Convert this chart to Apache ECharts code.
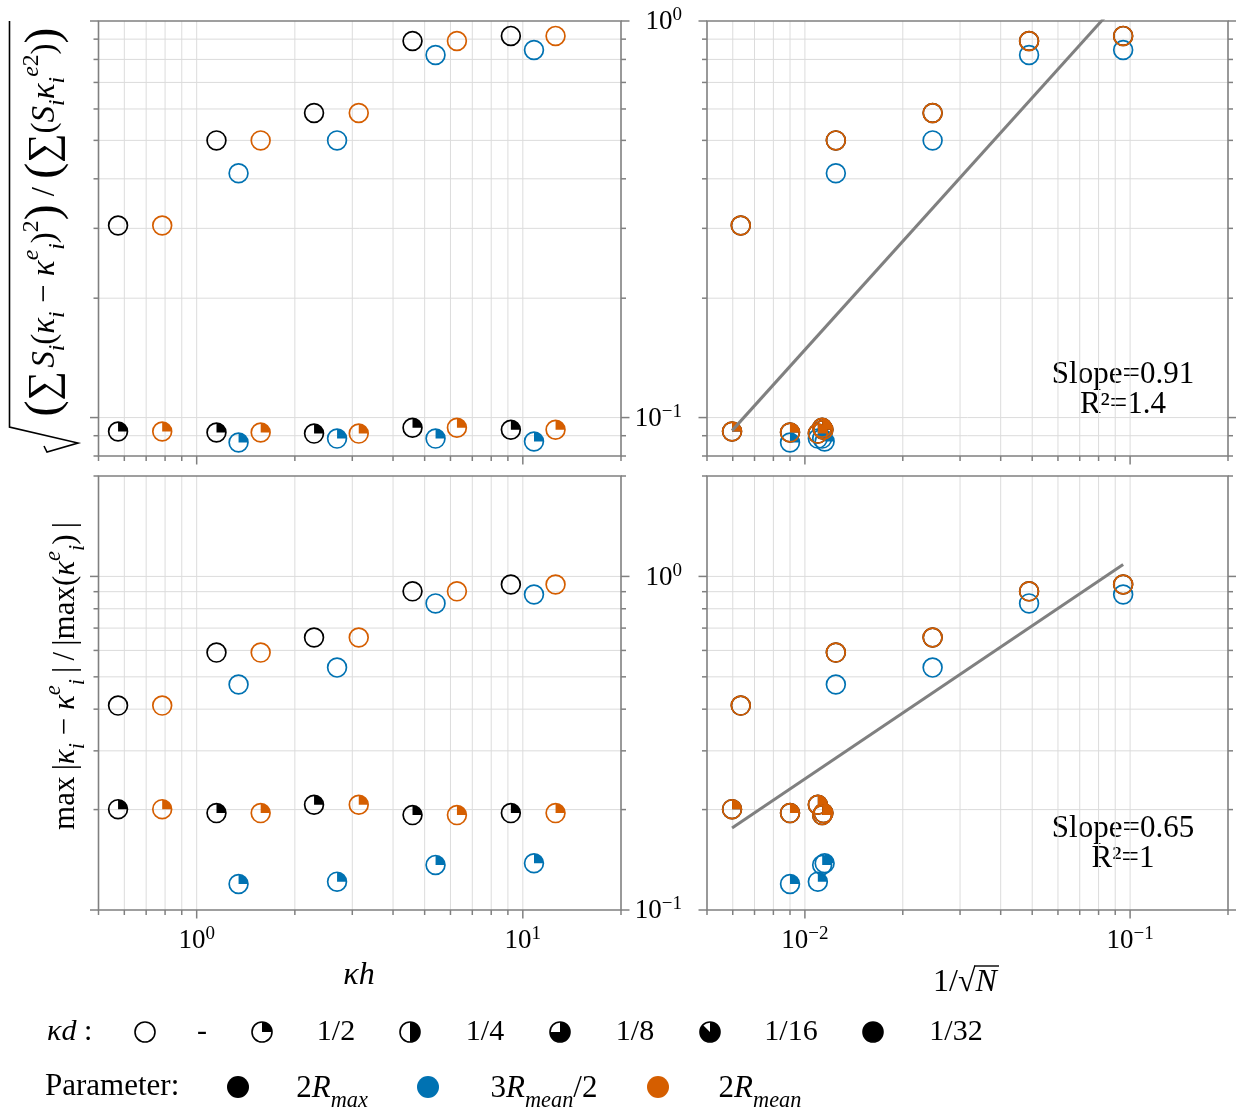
<!DOCTYPE html>
<html>
<head>
<meta charset="utf-8">
<script src="https://cdn.jsdelivr.net/npm/echarts@6/dist/echarts.min.js"></script>
<style>
html,body{margin:0;padding:0;background:#fff}
#c{width:1236px;height:1110px}
</style>
</head>
<body>
<div id="c"></div>
<script>
// ---------------- DATA ----------------
// kd levels (legend) and the fraction of each marker that is filled
const kdLevels = ['-', '1/2', '1/4', '1/8', '1/16', '1/32'];
const kdWedge  = [0, 0.25, 0.5, 0.75, 0.875, 1];

// parameter names
const paramNames  = ['2Rmax', '3Rmean/2', '2Rmean'];
const paramColors = ['#000000', '#0072b2', '#d55e00'];

// kappa*h (x of left panels)
const kh_2Rmax   = [0.574, 1.150, 2.29, 4.59, 9.19];
const kh_3Rmean2 = [1.344, 2.694, 5.40, 10.82];
const kh_2Rmean  = [0.784, 1.571, 3.14, 6.28, 12.6];

// 1/sqrt(N) (x of right panels); "none" = kd '-', "half" = kd 1/2
const isn_2Rmax_none   = [0.00635, 0.01245, 0.0247, 0.0489, 0.0952];
const isn_2Rmax_half   = [0.00597, 0.0090, 0.01096, 0.0113, 0.0114];
const isn_3Rmean2_none = [0.01245, 0.0247, 0.0489, 0.0952];
const isn_3Rmean2_half = [0.0090, 0.01096, 0.0113, 0.0115];
const isn_2Rmean_none  = [0.00635, 0.01245, 0.0247, 0.0489, 0.0952];
const isn_2Rmean_half  = [0.00597, 0.0090, 0.01096, 0.0113, 0.0114];

// relative weighted L2 error (top row)
const l2_2Rmax_none   = [0.305, 0.500, 0.586, 0.890, 0.917];
const l2_2Rmax_half   = [0.0922, 0.0917, 0.0911, 0.0943, 0.0932];
const l2_3Rmean2_none = [0.413, 0.500, 0.821, 0.845];
const l2_3Rmean2_half = [0.0865, 0.0885, 0.0885, 0.0870];
const l2_2Rmean_none  = [0.305, 0.500, 0.586, 0.890, 0.917];
const l2_2Rmean_half  = [0.0922, 0.0917, 0.0911, 0.0943, 0.0932];

// relative max error (bottom row)
const mx_2Rmax_none   = [0.410, 0.591, 0.656, 0.902, 0.946];
const mx_2Rmax_half   = [0.2006, 0.1952, 0.2067, 0.1925, 0.1952];
const mx_3Rmean2_none = [0.474, 0.533, 0.830, 0.883];
const mx_3Rmean2_half = [0.1197, 0.1216, 0.1365, 0.1381];
const mx_2Rmean_none  = [0.410, 0.591, 0.656, 0.902, 0.946];
const mx_2Rmean_half  = [0.2006, 0.1952, 0.2067, 0.1925, 0.1952];

// fit lines (right panels)
const fitTopX = [0.00597, 0.0952];
const fitTopY = [0.0927, 1.15];
const fitBotX = [0.00597, 0.0952];
const fitBotY = [0.176, 1.085];
const fitTopText = ['Slope=0.91', 'R²=1.4'];
const fitBotText = ['Slope=0.65', 'R²=1'];

// axis ranges
const xRangeKh = [0.5, 20];
const xRangeN  = [0.005, 0.2];
const yRangeL2 = [0.08, 1];
const yRangeMx = [0.1, 2];

// ---------------- HELPERS ----------------
const SERIF = "'Liberation Serif','DejaVu Serif',serif";
const GRIDC = '#dcdcdc';
const AXC = '#808080';
const MR = 9.4;   // marker radius

function logTicks(r) {
  const out = [];
  const k0 = Math.floor(Math.log10(r[0])) - 1, k1 = Math.ceil(Math.log10(r[1])) + 1;
  for (let k = k0; k <= k1; k++) {
    for (let m = 1; m <= 9; m++) {
      const v = m * Math.pow(10, k);
      if (v >= r[0] * (1 - 1e-9) && v <= r[1] * (1 + 1e-9)) out.push({ v: v, major: m === 1, k: k });
    }
  }
  return out;
}
function ln(x1, y1, x2, y2, c, w) {
  return { type: 'line', shape: { x1: x1, y1: y1, x2: x2, y2: y2 }, style: { stroke: c, lineWidth: w } };
}
function expLabel(k) { return '10{sup|' + (k < 0 ? '\u2212' + (-k) : '' + k) + '}'; }
const tickRich = { sup: { fontSize: 19, lineHeight: 15, verticalAlign: 'top', fontFamily: SERIF } };

function decoSeries(g, cfg) {
  return {
    type: 'custom', xAxisIndex: g, yAxisIndex: g, z: 1, silent: true, clip: false,
    data: [[cfg.xr[0], cfg.yr[0]]], encode: { x: 0, y: 1 },
    renderItem: function (params, api) {
      const tl = api.coord([cfg.xr[0], cfg.yr[1]]), br = api.coord([cfg.xr[1], cfg.yr[0]]);
      const L = tl[0], T = tl[1], R = br[0], B = br[1];
      const grid = [], ticks = [], labels = [];
      const near = (a, b) => Math.abs(a - b) < 0.8;
      logTicks(cfg.xr).forEach(t => {
        const px = api.coord([t.v, cfg.yr[0]])[0];
        if (!near(px, L) && !near(px, R)) grid.push(ln(px, T, px, B, GRIDC, 1));
        const len = t.major ? 8.5 : 5;
        ticks.push(ln(px, B, px, B + len, AXC, 1.5));
        if (t.major && cfg.xLabels) labels.push({
          type: 'text', x: px, y: B + 15,
          style: { text: expLabel(t.k), fontFamily: SERIF, fontSize: 27, lineHeight: 32, fill: '#000',
                   align: 'center', verticalAlign: 'top', rich: tickRich }
        });
      });
      logTicks(cfg.yr).forEach(t => {
        const py = api.coord([cfg.xr[0], t.v])[1];
        if (!near(py, T) && !near(py, B)) grid.push(ln(L, py, R, py, GRIDC, 1));
        const len = t.major ? 8.5 : 5;
        ticks.push(ln(L - len, py, L, py, AXC, 1.5));
        ticks.push(ln(R, py, R + len, py, AXC, 1.5));
        if (t.major && cfg.yLabels) labels.push({
          type: 'text', x: L - 25, y: py + 1,
          style: { text: expLabel(t.k), fontFamily: SERIF, fontSize: 27, lineHeight: 32, fill: '#000',
                   align: 'right', verticalAlign: 'middle', rich: tickRich }
        });
      });
      const frame = { type: 'rect', shape: { x: L, y: T, width: R - L, height: B - T },
                      style: { fill: null, stroke: AXC, lineWidth: 1.6 } };
      return { type: 'group', children: grid.concat(ticks, [frame], labels) };
    }
  };
}

function markerSeries(g, color, pts, z) {
  return {
    type: 'custom', xAxisIndex: g, yAxisIndex: g, z: z, silent: true, clip: false,
    data: pts, encode: { x: 0, y: 1 },
    renderItem: function (params, api) {
      const p = api.coord([api.value(0), api.value(1)]);
      const f = api.value(2);
      const ch = [];
      if (f >= 1) ch.push({ type: 'circle', shape: { cx: p[0], cy: p[1], r: MR }, style: { fill: color } });
      else if (f > 0) ch.push({ type: 'sector', shape: { cx: p[0], cy: p[1], r: MR, r0: 0,
          startAngle: -Math.PI / 2, endAngle: -Math.PI / 2 + 2 * Math.PI * f, clockwise: true },
          style: { fill: color } });
      ch.push({ type: 'circle', shape: { cx: p[0], cy: p[1], r: MR }, style: { fill: null, stroke: color, lineWidth: 1.7 } });
      return { type: 'group', children: ch };
    }
  };
}
function pts(xs, ys, kdIdx) { return xs.map((x, i) => [x, ys[i], kdWedge[kdIdx]]); }

// ---------------- OPTION ----------------
const grids = [
  { left: 98.5, top: 21, width: 522.5, height: 435 },
  { left: 707, top: 21, width: 521, height: 435 },
  { left: 98.5, top: 476, width: 522.5, height: 434 },
  { left: 707, top: 476, width: 521, height: 434 }
];
const xr = [xRangeKh, xRangeN, xRangeKh, xRangeN];
const yr = [yRangeL2, yRangeL2, yRangeMx, yRangeMx];

const series = [];
for (let g = 0; g < 4; g++) {
  series.push(decoSeries(g, { xr: xr[g], yr: yr[g], xLabels: g >= 2, yLabels: g % 2 === 1 }));
}
const khX = [kh_2Rmax, kh_3Rmean2, kh_2Rmean];
const isnNone = [isn_2Rmax_none, isn_3Rmean2_none, isn_2Rmean_none];
const isnHalf = [isn_2Rmax_half, isn_3Rmean2_half, isn_2Rmean_half];
const l2None = [l2_2Rmax_none, l2_3Rmean2_none, l2_2Rmean_none];
const l2Half = [l2_2Rmax_half, l2_3Rmean2_half, l2_2Rmean_half];
const mxNone = [mx_2Rmax_none, mx_3Rmean2_none, mx_2Rmean_none];
const mxHalf = [mx_2Rmax_half, mx_3Rmean2_half, mx_2Rmean_half];
for (let p = 0; p < 3; p++) {
  const c = paramColors[p];
  series.push(markerSeries(0, c, pts(khX[p], l2None[p], 0).concat(pts(khX[p], l2Half[p], 1)), 3));
  series.push(markerSeries(1, c, pts(isnNone[p], l2None[p], 0).concat(pts(isnHalf[p], l2Half[p], 1)), 3));
  series.push(markerSeries(2, c, pts(khX[p], mxNone[p], 0).concat(pts(khX[p], mxHalf[p], 1)), 3));
  series.push(markerSeries(3, c, pts(isnNone[p], mxNone[p], 0).concat(pts(isnHalf[p], mxHalf[p], 1)), 3));
}
series.push({ type: 'line', xAxisIndex: 1, yAxisIndex: 1, z: 5, silent: true, clip: true, symbol: 'none',
  data: fitTopX.map((x, i) => [x, fitTopY[i]]), lineStyle: { color: AXC, width: 3 } });
series.push({ type: 'line', xAxisIndex: 3, yAxisIndex: 3, z: 5, silent: true, clip: true, symbol: 'none',
  data: fitBotX.map((x, i) => [x, fitBotY[i]]), lineStyle: { color: AXC, width: 3 } });

// ---------------- GRAPHIC (titles, legend, annotations) ----------------
function mathRich(size) {
  return {
    m: { fontSize: size, fontFamily: SERIF, lineHeight: size * 1.5 },
    i: { fontSize: size, fontFamily: SERIF, fontStyle: 'italic', lineHeight: size * 1.5 },
    s: { fontSize: size * 0.72, fontFamily: SERIF, fontStyle: 'italic', lineHeight: size * 1.0, verticalAlign: 'bottom' },
    e: { fontSize: size * 0.72, fontFamily: SERIF, fontStyle: 'italic', lineHeight: size * 0.8, verticalAlign: 'top' },
    n: { fontSize: size * 0.72, fontFamily: SERIF, lineHeight: size * 0.8, verticalAlign: 'top' },
    b: { fontSize: size * 1.45, fontFamily: SERIF, lineHeight: size * 1.5 },
    op: { fontSize: size * 1.25, fontFamily: SERIF, lineHeight: size * 1.5 }
  };
}
const TH = '\u2009';
const elements = [];
// top-left y label
elements.push({ type: 'text', x: 45, y: 222, rotation: Math.PI / 2,
  style: { text: '{b|(}{op|\u2211} {i|S}{s|i}{m|(}{i|\u03ba}{s|i}{m| \u2212 }{i|\u03ba}{e|e}{s|i}{m|)}{n|2}{b|)}{m| / }{b|(}{op|\u2211}{m|(}{i|S}{s|i}{i|\u03ba}{s|i}{e|e}{n|2}{m|)}{b|)}',
    rich: mathRich(33), align: 'center', verticalAlign: 'middle', fill: '#000' } });
elements.push({ type: 'polyline', shape: { points: [[9.5, 21], [9.5, 427], [78, 443], [47, 452], [44, 446]] },
  style: { stroke: '#000', lineWidth: 1.6, fill: null } });
// bottom-left y label
elements.push({ type: 'text', x: 66, y: 676, rotation: Math.PI / 2,
  style: { text: '{m|max' + TH + '|}{i|\u03ba}{s|i}{m| \u2212 }{i|\u03ba}{e|e}{s|i}{m|' + TH + '|' + TH + '/' + TH + '|max(}{i|\u03ba}{e|e}{s|i}{m|)' + TH + '|}',
    rich: mathRich(31), align: 'center', verticalAlign: 'middle', fill: '#000' } });
// x labels
elements.push({ type: 'text', x: 359, y: 976,
  style: { text: '{i|\u03bah}', rich: mathRich(32), align: 'center', verticalAlign: 'middle', fill: '#000' } });
elements.push({ type: 'text', x: 933, y: 983,
  style: { text: '{m|1/\u221a}{i|N}', rich: mathRich(32), align: 'left', verticalAlign: 'middle', fill: '#000' } });
elements.push({ type: 'line', shape: { x1: 974, y1: 966, x2: 999, y2: 966 }, style: { stroke: '#000', lineWidth: 1.4 } });
// annotations
[[fitTopText, 375], [fitBotText, 829]].forEach(a => {
  a[0].forEach((t, i) => elements.push({ type: 'text', x: 1123, y: a[1] + i * 30,
    style: { text: t, fontFamily: SERIF, fontSize: 31, fill: '#000', align: 'center', verticalAlign: 'middle' } }));
});
// legend row 1
elements.push({ type: 'text', x: 47, y: 1032,
  style: { text: '{i|\u03bad}{m| :}', rich: mathRich(30), align: 'left', verticalAlign: 'middle', fill: '#000' } });
const kdMarkX = [145, 262, 410, 560, 710, 873];
const kdTextX = [202, 336, 485, 635, 791, 956];
kdLevels.forEach((lab, i) => {
  const f = kdWedge[i], cx = kdMarkX[i], cy = 1032, r = 10;
  if (f >= 1) elements.push({ type: 'circle', shape: { cx: cx, cy: cy, r: r }, style: { fill: '#000' } });
  else if (f > 0) elements.push({ type: 'sector', shape: { cx: cx, cy: cy, r: r, r0: 0, startAngle: -Math.PI / 2,
      endAngle: -Math.PI / 2 + 2 * Math.PI * f, clockwise: true }, style: { fill: '#000' } });
  elements.push({ type: 'circle', shape: { cx: cx, cy: cy, r: r }, style: { fill: null, stroke: '#000', lineWidth: 1.6 } });
  elements.push({ type: 'text', x: kdTextX[i], y: cy,
    style: { text: lab, fontFamily: SERIF, fontSize: 30, fill: '#000', align: 'center', verticalAlign: 'middle' } });
});
// legend row 2
elements.push({ type: 'text', x: 45, y: 1087,
  style: { text: 'Parameter:', fontFamily: SERIF, fontSize: 31, fill: '#000', align: 'left', verticalAlign: 'middle' } });
const parMarkX = [238, 428, 658];
const parTextX = [332, 544, 760];
const parText = ['{m|2}{i|R}{s|max}', '{m|3}{i|R}{s|mean}{m|/2}', '{m|2}{i|R}{s|mean}'];
paramNames.forEach((nm, i) => {
  elements.push({ type: 'circle', shape: { cx: parMarkX[i], cy: 1087, r: 11 }, style: { fill: paramColors[i] } });
  elements.push({ type: 'text', x: parTextX[i], y: 1089,
    style: { text: parText[i], rich: mathRich(31), align: 'center', verticalAlign: 'middle', fill: '#000' } });
});

const option = {
  animation: false,
  backgroundColor: '#ffffff',
  grid: grids.map(g => Object.assign({ show: false, containLabel: false }, g)),
  xAxis: xr.map((r, g) => ({ gridIndex: g, type: 'log', min: r[0], max: r[1], show: false })),
  yAxis: yr.map((r, g) => ({ gridIndex: g, type: 'log', min: r[0], max: r[1], show: false })),
  series: series,
  graphic: { elements: elements }
};
const chart = echarts.init(document.getElementById('c'), null, { renderer: 'canvas' });
chart.setOption(option);
</script>
</body>
</html>
